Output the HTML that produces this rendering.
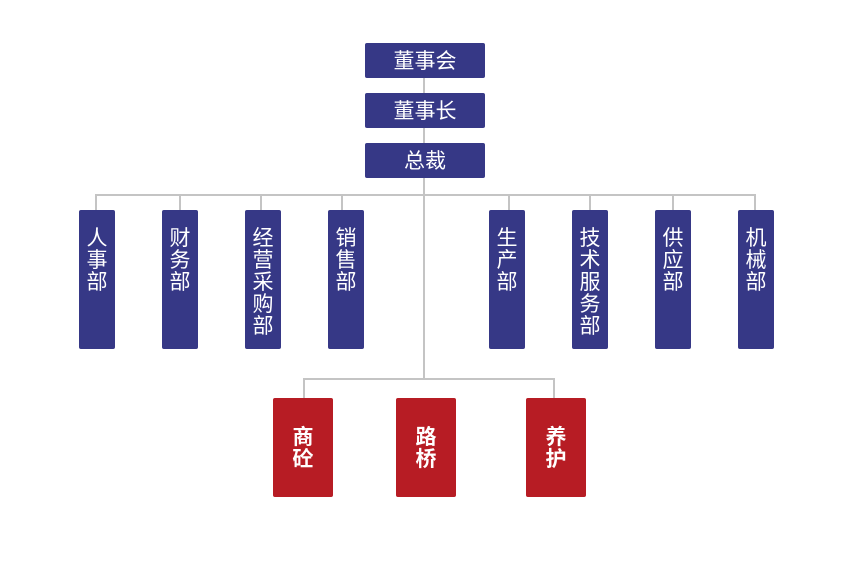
<!DOCTYPE html>
<html><head><meta charset="utf-8"><style>
body{margin:0;width:851px;height:570px;background:#fff;position:relative;overflow:hidden;font-family:"Liberation Sans","Noto Sans CJK SC",sans-serif}
.l{position:absolute;background:#c4c4c4}
.t{position:absolute;left:365px;width:120px;height:35px;background:#363886;color:#fff;font-size:21px;line-height:37px;text-align:center;border-radius:2px}
.d{position:absolute;top:210px;width:36px;height:139px;background:#363886;color:#fff;font-size:21px;line-height:22px;text-align:center;padding-top:18px;box-sizing:border-box;border-radius:2px}
.r{position:absolute;top:398px;width:60px;height:99px;background:#b71c24;color:#fff;font-size:21px;font-weight:bold;line-height:22px;text-align:center;padding-top:29px;box-sizing:border-box;border-radius:2px}
</style></head><body>
<div class="l" style="left:423px;top:78px;width:2px;height:301px"></div>
<div class="l" style="left:95px;top:194px;width:661px;height:2px"></div>
<div class="l" style="left:95px;top:194px;width:2px;height:16px"></div>
<div class="l" style="left:179px;top:194px;width:2px;height:16px"></div>
<div class="l" style="left:260px;top:194px;width:2px;height:16px"></div>
<div class="l" style="left:341px;top:194px;width:2px;height:16px"></div>
<div class="l" style="left:508px;top:194px;width:2px;height:16px"></div>
<div class="l" style="left:589px;top:194px;width:2px;height:16px"></div>
<div class="l" style="left:672px;top:194px;width:2px;height:16px"></div>
<div class="l" style="left:754px;top:194px;width:2px;height:16px"></div>
<div class="l" style="left:303px;top:378px;width:252px;height:2px"></div>
<div class="l" style="left:303px;top:378px;width:2px;height:20px"></div>
<div class="l" style="left:553px;top:378px;width:2px;height:20px"></div>
<div class="t" style="top:43px">董事会</div>
<div class="t" style="top:93px">董事长</div>
<div class="t" style="top:143px">总裁</div>
<div class="d" style="left:79px">人<br>事<br>部</div>
<div class="d" style="left:162px">财<br>务<br>部</div>
<div class="d" style="left:245px">经<br>营<br>采<br>购<br>部</div>
<div class="d" style="left:328px">销<br>售<br>部</div>
<div class="d" style="left:489px">生<br>产<br>部</div>
<div class="d" style="left:572px">技<br>术<br>服<br>务<br>部</div>
<div class="d" style="left:655px">供<br>应<br>部</div>
<div class="d" style="left:738px">机<br>械<br>部</div>
<div class="r" style="left:273px">商<br>砼</div>
<div class="r" style="left:396px">路<br>桥</div>
<div class="r" style="left:526px">养<br>护</div>
</body></html>
